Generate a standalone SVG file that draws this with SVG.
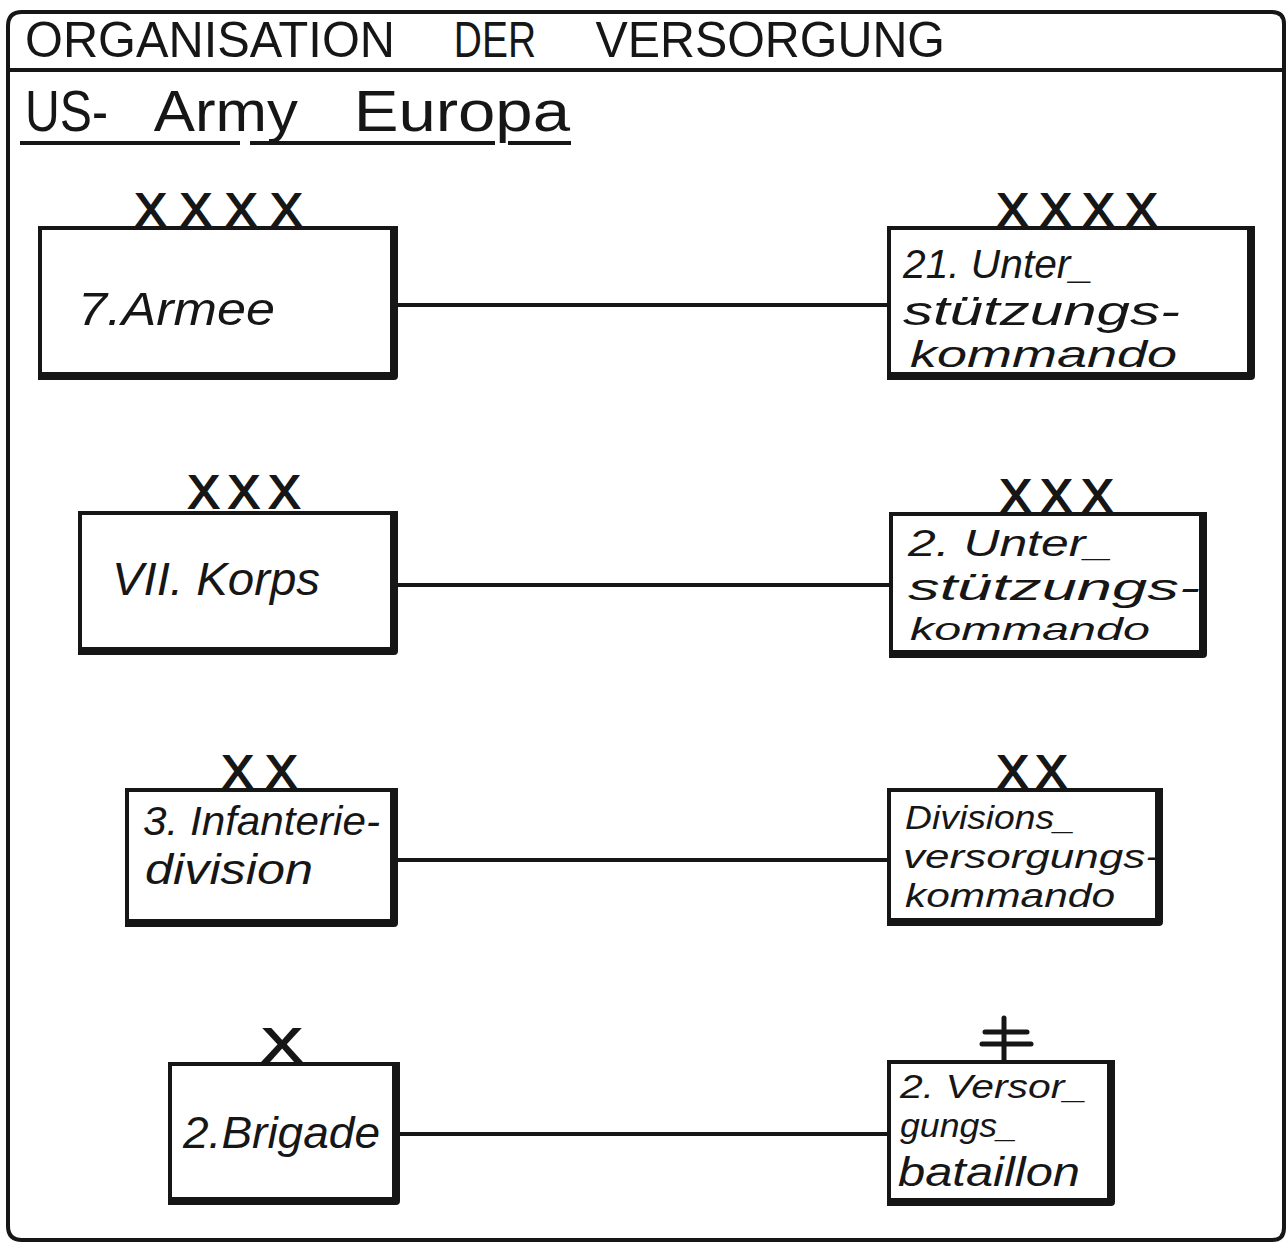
<svg xmlns="http://www.w3.org/2000/svg" width="1288" height="1243" viewBox="0 0 1288 1243">
<style>
.frame{fill:none;stroke:#161616;stroke-width:4;stroke-linejoin:round}
.box{fill:#fff;stroke:#161616;stroke-width:4}
.shadow{fill:none;stroke:#161616;stroke-width:8;stroke-linecap:square;stroke-linejoin:round}
.conn{stroke:#161616;stroke-width:4;fill:none}
.ul{stroke:#161616;stroke-width:4}
.title{font-family:"Liberation Sans",Arial,sans-serif;fill:#161616}
.lbl{font-family:"Liberation Sans",Arial,sans-serif;font-style:italic;fill:#161616}
.sym{font-family:"Liberation Sans",Arial,sans-serif;fill:#161616;stroke:#161616;stroke-width:1.8;font-size:47px}
.symline{stroke:#161616;stroke-width:5;stroke-linecap:round}
</style>
<rect width="1288" height="1243" fill="#fff"/>
<g id="frame">
<path class="frame" d="M22 12 H1272 Q1284 12 1284 24 V1228 Q1284 1240 1272 1240 H22 Q8 1240 8 1226 V26 Q8 12 22 12 Z"/>
<line class="frame" x1="8" y1="70" x2="1286" y2="70"/>
</g>
<g id="title">
<text class="title" y="57" font-size="50"><tspan x="25" textLength="370" lengthAdjust="spacingAndGlyphs">ORGANISATION</tspan><tspan x="443" textLength="93" lengthAdjust="spacingAndGlyphs"> DER</tspan><tspan x="582" textLength="363" lengthAdjust="spacingAndGlyphs"> VERSORGUNG</tspan></text>
<text class="title" y="131" font-size="58"><tspan x="25" textLength="83" lengthAdjust="spacingAndGlyphs">US-</tspan><tspan x="140" textLength="158" lengthAdjust="spacingAndGlyphs"> Army</tspan><tspan x="335" textLength="235" lengthAdjust="spacingAndGlyphs"> Europa</tspan></text>
<line class="ul" x1="20" y1="143" x2="240" y2="143"/>
<line class="ul" x1="250" y1="143" x2="495" y2="143"/>
<line class="ul" x1="508" y1="143" x2="571" y2="143"/>
</g>
<g id="connectors">
<line class="conn" x1="398" y1="305" x2="889" y2="305"/>
<line class="conn" x1="397" y1="585" x2="891" y2="585"/>
<line class="conn" x1="398" y1="860" x2="889" y2="860"/>
<line class="conn" x1="400" y1="1134" x2="889" y2="1134"/>
</g>
<g id="n-armee">
<text class="sym" x="135" y="226" textLength="167">XXXX</text>
<rect class="box" x="40" y="228" width="352" height="146"/>
<text class="lbl" x="78" y="325" font-size="46" textLength="197" lengthAdjust="spacingAndGlyphs">7.Armee</text>
<path class="shadow" d="M394 230 V376 H42"/>
</g>
<g id="n-21usk">
<text class="sym" x="997" y="226" textLength="160">XXXX</text>
<rect class="box" x="889" y="228" width="360" height="146"/>
<text class="lbl" x="903" y="278" font-size="40" textLength="190" lengthAdjust="spacingAndGlyphs">21. Unter_</text>
<text class="lbl" x="903" y="325" font-size="40" textLength="277" lengthAdjust="spacingAndGlyphs">stützungs-</text>
<text class="lbl" x="910" y="367" font-size="36" textLength="267" lengthAdjust="spacingAndGlyphs">kommando</text>
<path class="shadow" d="M1251 230 V376 H891"/>
</g>
<g id="n-korps">
<text class="sym" x="188" y="508" textLength="112">XXX</text>
<rect class="box" x="80" y="513" width="312" height="136"/>
<text class="lbl" x="112" y="595" font-size="46" textLength="208" lengthAdjust="spacingAndGlyphs">VII. Korps</text>
<path class="shadow" d="M394 515 V651 H82"/>
</g>
<g id="n-2usk">
<text class="sym" x="1000" y="512" textLength="113">XXX</text>
<rect class="box" x="891" y="514" width="310" height="138"/>
<text class="lbl" x="908" y="556" font-size="36" textLength="205" lengthAdjust="spacingAndGlyphs">2. Unter_</text>
<text class="lbl" x="908" y="600" font-size="36" textLength="292" lengthAdjust="spacingAndGlyphs">stützungs-</text>
<text class="lbl" x="910" y="640" font-size="32" textLength="240" lengthAdjust="spacingAndGlyphs">kommando</text>
<path class="shadow" d="M1203 516 V654 H893"/>
</g>
<g id="n-infdiv">
<text class="sym" x="222" y="788" textLength="75">XX</text>
<rect class="box" x="127" y="790" width="265" height="131"/>
<text class="lbl" x="143" y="835" font-size="40" textLength="237" lengthAdjust="spacingAndGlyphs">3. Infanterie-</text>
<text class="lbl" x="145" y="884" font-size="42" textLength="168" lengthAdjust="spacingAndGlyphs">division</text>
<path class="shadow" d="M394 792 V923 H129"/>
</g>
<g id="n-divvk">
<text class="sym" x="997" y="788" textLength="70">XX</text>
<rect class="box" x="889" y="790" width="268" height="130"/>
<text class="lbl" x="905" y="829" font-size="34" textLength="170" lengthAdjust="spacingAndGlyphs">Divisions_</text>
<text class="lbl" x="903" y="868" font-size="34" textLength="257" lengthAdjust="spacingAndGlyphs">versorgungs-</text>
<text class="lbl" x="905" y="907" font-size="34" textLength="210" lengthAdjust="spacingAndGlyphs">kommando</text>
<path class="shadow" d="M1159 792 V922 H891"/>
</g>
<g id="n-brigade">
<text class="sym" x="262" y="1061" font-size="54" textLength="40" lengthAdjust="spacingAndGlyphs">X</text>
<rect class="box" x="170" y="1064" width="224" height="135"/>
<text class="lbl" x="183" y="1148" font-size="44" textLength="197" lengthAdjust="spacingAndGlyphs">2.Brigade</text>
<path class="shadow" d="M396 1066 V1201 H172"/>
</g>
<g id="n-versbtl">
<line class="symline" x1="1004" y1="1018" x2="1004" y2="1062"/>
<line class="symline" x1="985" y1="1032" x2="1027" y2="1032"/>
<line class="symline" x1="982" y1="1044" x2="1031" y2="1044"/>
<rect class="box" x="889" y="1062" width="220" height="138"/>
<text class="lbl" x="900" y="1098" font-size="34" textLength="187" lengthAdjust="spacingAndGlyphs">2. Versor_</text>
<text class="lbl" x="900" y="1137" font-size="34" textLength="117" lengthAdjust="spacingAndGlyphs">gungs_</text>
<text class="lbl" x="898" y="1186" font-size="40" textLength="182" lengthAdjust="spacingAndGlyphs">bataillon</text>
<path class="shadow" d="M1111 1064 V1202 H891"/>
</g>
</svg>
